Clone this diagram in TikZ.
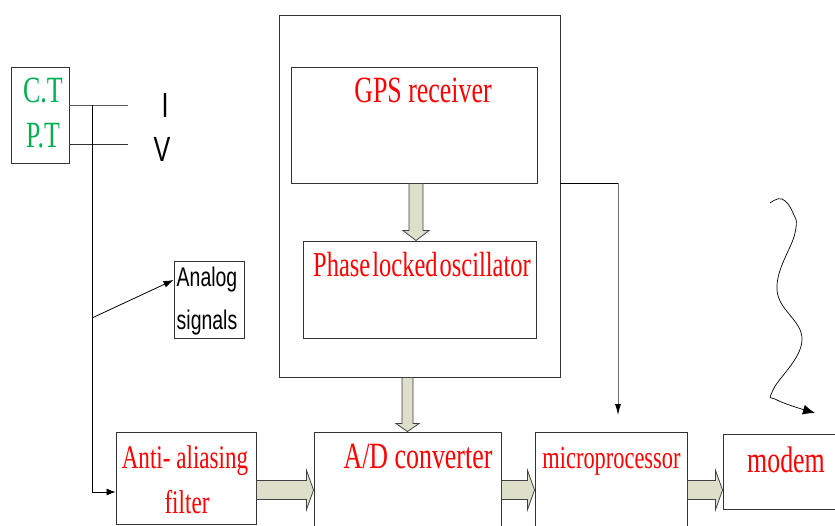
\documentclass[tikz,border=0pt]{standalone}
\usepackage{fontspec}
\usepackage{tikz}
\usetikzlibrary{arrows, arrows.meta, calc, positioning}
\newfontfamily\boxfont{Liberation Serif}[FakeStretch=0.7]
\newfontfamily\signfont{Liberation Sans}[FakeStretch=0.72]
\definecolor{blockfill}{RGB}{221,223,203}
\definecolor{ctgreen}{RGB}{0,176,80}

\tikzset{
  box/.style={draw=black!80, line width=0.9pt, inner sep=0pt, rectangle},
  blk/.style={draw=black!75, fill=blockfill, line width=0.8pt},
  wire/.style={draw=black, line width=0.8pt},
  rtxt/.style={text=red, anchor=base, inner sep=0pt,
    font=\boxfont\fontsize{#1}{#1}\selectfont},
  gtxt/.style={text=ctgreen, anchor=base, inner sep=0pt,
    font=\boxfont\fontsize{37}{37}\selectfont},
  stxt/.style={anchor=base, inner sep=0pt,
    font=\signfont\fontsize{#1}{#1}\selectfont},
}

% wide arrows between blocks
\newcommand{\hblock}[3]{%
  \filldraw[blk] let \p1=(#1.east), \p2=(#2.west) in
    (\x1,#3pt+9.5pt) -- (\x2-7pt,#3pt+9.5pt) -- (\x2-7pt,#3pt+19.5pt)
    -- (\x2,#3pt) -- (\x2-7pt,#3pt-19.5pt) -- (\x2-7pt,#3pt-9.5pt)
    -- (\x1,#3pt-9.5pt) -- cycle;}
\newcommand{\vblock}[6]{%
  \filldraw[blk] let \p1=(#1.south), \p2=(#2.north) in
    (#3pt-#4pt,\y1) -- (#3pt-#4pt,\y2+#6pt) -- (#3pt-#5pt,\y2+#6pt)
    -- (#3pt,\y2) -- (#3pt+#5pt,\y2+#6pt) -- (#3pt+#4pt,\y2+#6pt)
    -- (#3pt+#4pt,\y1) -- cycle;}

\begin{document}
\begin{tikzpicture}[x=1pt, y=1pt]
\useasboundingbox (0,0) rectangle (835,525);
\clip (0,0) rectangle (835,525);

\node[box, minimum width=58pt, minimum height=96pt] (ctpt) at (40,410) {};
\node[box, minimum width=70pt, minimum height=77pt] (ana) at (209,225.5) {};
\node[box, minimum width=281pt, minimum height=362pt] (big) at (419.5,329) {};
\node[box, minimum width=246pt, minimum height=116pt] (gps) at (414,400) {};
\node[box, minimum width=233pt, minimum height=97pt] (plo) at (419.5,235.5) {};
\node[box, minimum width=140pt, minimum height=92pt] (aaf) at (186,47) {};
\node[box, minimum width=187pt, minimum height=108pt] (adc) at (407.5,39) {};
\node[box, minimum width=152pt, minimum height=108pt] (mpu) at (611,39) {};
\node[box, minimum width=127pt, minimum height=75pt] (modem) at (786.5,53.5) {};

\node[gtxt] (ct) at (43,422) {C.T};
\node[gtxt] (pt) at (43,377) {P.T};
\node[stxt=35] (itxt) at (165,407) {I};
\node[stxt=35] (vtxt) at (162,363) {V};
\node[stxt=27] (anat) at (207,238) {Analog};
\node[stxt=27] (sigt) at (207,195) {signals};
\node[rtxt=37] (gpst) at (423,422) {GPS receiver};
\node[rtxt=35] (plot) at (422,248) {\spaceskip=2pt\relax Phase locked oscillator};
\node[rtxt=33] (aaft) at (185,57) {Anti- aliasing};
\node[rtxt=33] (filt) at (187,12) {filter};
\node[rtxt=37] (adct) at (418,57) {A/D converter};
\node[rtxt=32] (mput) at (611.5,57) {microprocessor};
\node[rtxt=37] (modt) at (786,53) {modem};

\coordinate (iend) at (128,420);
\coordinate (vend) at (128,381);
\coordinate (jn) at (92,420);
\coordinate (tap) at (92,207);
\coordinate (gpsend) at (618,110);

\draw[wire, black!65] (ctpt.east |- iend) -- (iend);
\draw[wire, black!80] (ctpt.east |- vend) -- (vend);
\draw[wire, -{Latex[length=9pt,width=7pt]}] (jn) |- ($(aaf.west)+(0,-14)$);
\draw[wire, -{Latex[length=10pt,width=7pt]}] (tap) -- ($(ana.west)+(0,19.5)$);
\draw[wire] ($(big.east)+(0,13)$) -- (gpsend |- 0,342);
\draw[wire, black!55, -{Latex[length=11pt,width=6pt,black]}] (gpsend |- 0,342) -- (gpsend);

\draw[wire, line width=0.7pt, -{Latex[length=12pt,width=10pt]}] plot[smooth, tension=0.7]
  coordinates {(770,322) (782,326) (793,312) (795,292) (777,235) (802,185) (773,135) (777,125) (815,112)};

\vblock{gps}{plo}{416}{7}{13}{10}
\vblock{big}{adc}{407.5}{5.5}{11.5}{8}
\hblock{aaf}{adc}{35}
\hblock{adc}{mpu}{35}
\hblock{mpu}{modem}{35}
\end{tikzpicture}
\end{document}
